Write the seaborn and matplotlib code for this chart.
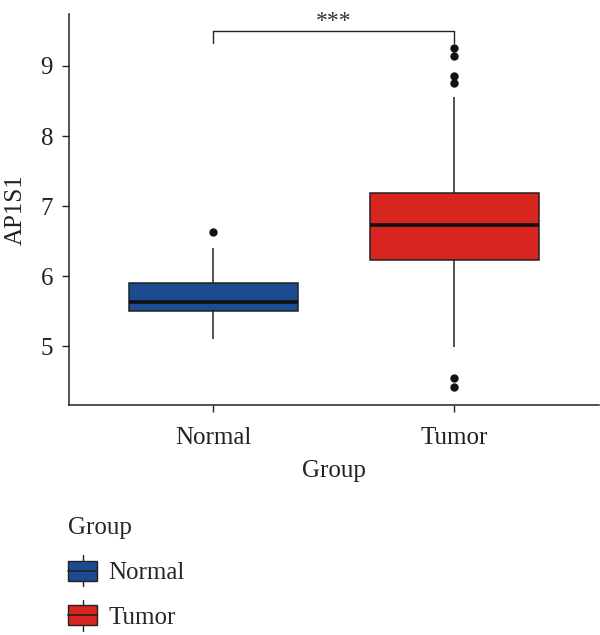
import numpy as np
import pandas as pd
import seaborn as sns
import matplotlib.pyplot as plt
from matplotlib.patches import Patch, Rectangle
from matplotlib.lines import Line2D
from matplotlib.legend_handler import HandlerBase

# Values (whisker ends, quartiles, median, outliers)
groups = ["Normal", "Tumor"]
normal_ap1s1 = [5.10, 5.30, 5.50, 5.58, 5.63, 5.75, 5.90, 6.40, 6.63]
tumor_ap1s1 = [4.41, 4.54, 4.99, 5.60, 6.00, 6.23, 6.40, 6.55, 6.65, 6.70,
               6.73, 6.85, 6.95, 7.05, 7.12, 7.19, 8.56, 8.76, 8.86, 9.14, 9.26]
group_colors = ["#1c4b8f", "#d8251f"]
sig_label = "***"
y_ticks = [5, 6, 7, 8, 9]

df = pd.DataFrame({
    "Group": ["Normal"] * len(normal_ap1s1) + ["Tumor"] * len(tumor_ap1s1),
    "AP1S1": normal_ap1s1 + tumor_ap1s1,
})

sns.set_theme(style="ticks")
plt.rcParams["font.family"] = ["Liberation Serif", "DejaVu Serif"]


class BoxHandler(HandlerBase):
    # legend glyph drawn like a small boxplot
    def create_artists(self, legend, orig_handle, xdescent, ydescent,
                       width, height, fontsize, trans):
        fc = orig_handle.get_facecolor()
        x0, y0 = -xdescent, -ydescent
        rect = Rectangle((x0, y0), width, height, facecolor=fc,
                         edgecolor="#222222", lw=1.0, transform=trans)
        mid = Line2D([x0, x0 + width], [y0 + height / 2] * 2,
                     color="#222222", lw=1.2, transform=trans)
        cx = x0 + width / 2
        top = Line2D([cx, cx], [y0 + height, y0 + height + 4],
                     color="#222222", lw=1.0, transform=trans)
        bot = Line2D([cx, cx], [y0 - 4, y0],
                     color="#222222", lw=1.0, transform=trans)
        return [rect, mid, top, bot]


fig = plt.figure(figsize=(6, 6.35), dpi=100)
ax = fig.add_axes([0.115, 0.362, 0.883, 0.616])

sns.boxplot(
    data=df, x="Group", y="AP1S1", hue="Group", order=groups,
    hue_order=groups, palette=group_colors, width=0.7, dodge=False,
    saturation=1, linecolor="#222222", linewidth=1.1, legend=True,
    showcaps=False,
    medianprops={"color": "#111111", "linewidth": 2.6},
    flierprops={"marker": "o", "markerfacecolor": "#111111",
                "markeredgecolor": "#111111", "markersize": 5},
    ax=ax,
)

ax.set_ylim(4.157, 9.743)
ax.set_xlim(-0.6, 1.6)
ax.set_yticks(y_ticks)
sns.despine(ax=ax)
for sp in ["left", "bottom"]:
    ax.spines[sp].set_linewidth(1.1)
    ax.spines[sp].set_color("#222222")
ax.tick_params(axis="both", length=5, width=1, color="#222222",
               labelsize=18, labelcolor="#222222")
ax.tick_params(axis="x", pad=11)
ax.tick_params(axis="y", pad=6.5)
ax.set_xlabel("Group", fontsize=18, color="#222222", labelpad=8)
ax.set_ylabel("AP1S1", fontsize=18, color="#222222", labelpad=10)

# significance bracket
ax.plot([0, 0, 1, 1], [9.33, 9.5, 9.5, 9.33], color="#222222", lw=1.0,
        clip_on=False)
ax.text(0.5, 9.64, sig_label, ha="center", va="center", fontsize=17,
        color="#333333")

leg = ax.get_legend()
handles = leg.legend_handles
labels = [t.get_text() for t in leg.texts]
leg.remove()
fig.legend(handles, labels, title="Group", loc="upper left",
           bbox_to_anchor=(0.093, 0.205), frameon=False, fontsize=18,
           title_fontsize=18, handlelength=1.16, handleheight=0.85,
           labelspacing=0.85, handletextpad=0.45, borderpad=0,
           alignment="left", handler_map={Patch: BoxHandler()})

fig.savefig("out.png", dpi=100, facecolor="white")
